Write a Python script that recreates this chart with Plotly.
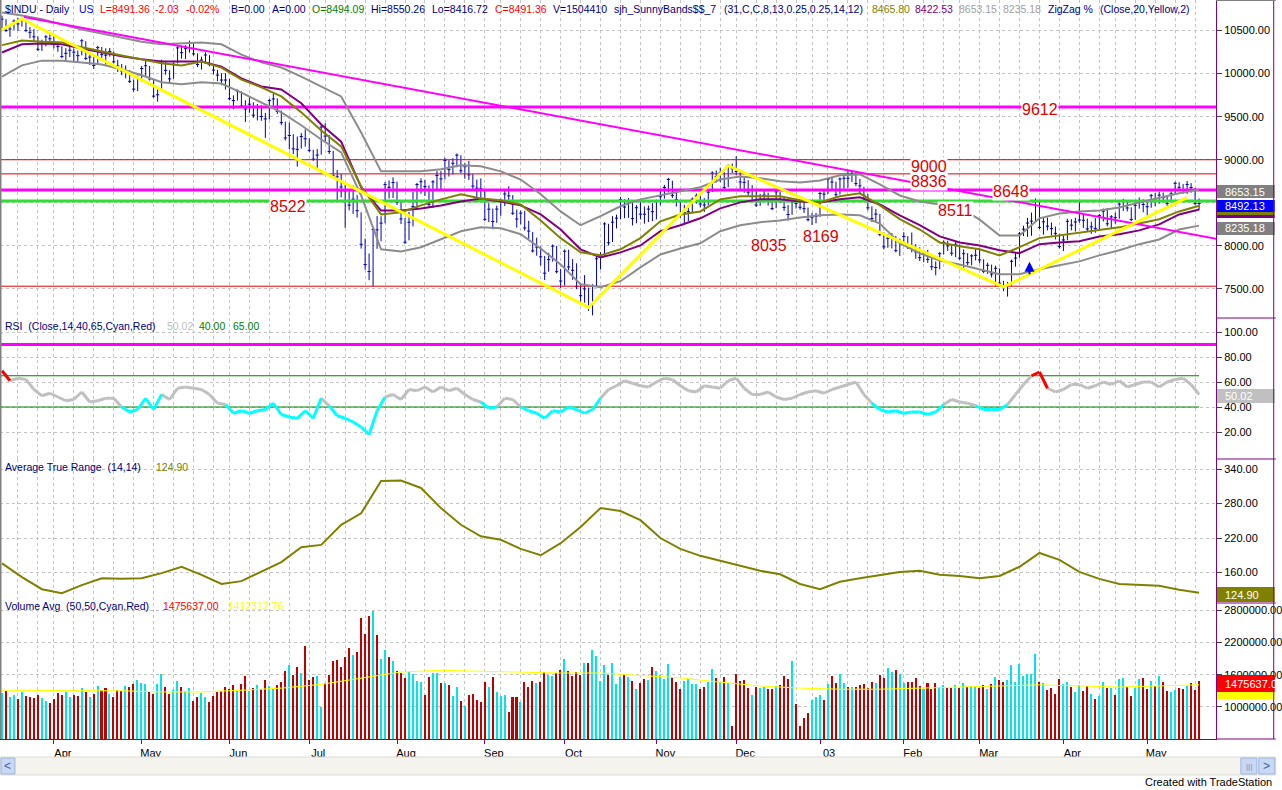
import pandas as pd
import plotly.graph_objects as go
from plotly.subplots import make_subplots

# ---- trading days: 12 Mar 2002 .. 20 May 2003 ----
holidays = ["2002-03-29", "2002-05-27", "2002-07-04", "2002-09-02", "2002-11-28",
            "2002-12-25", "2003-01-01", "2003-01-20", "2003-02-17", "2003-04-18"]
dates = pd.bdate_range("2002-03-12", "2003-05-20")
dates = dates[~dates.isin(pd.to_datetime(holidays))]

# ---- daily closes (one row per month) ----
close = [
    10632, 10501, 10517, 10608, 10577, 10635, 10501, 10479, 10427, 10282, 10353, 10426, 10404,
    10362, 10313, 10198, 10235, 10271, 10249, 10208, 10381, 10176, 10191, 10094, 10301, 10220, 10213, 10257, 10137, 10089, 10031, 10035, 9910, 9819, 9946,
    10059, 10091, 9939, 9738, 9754, 10141, 10037, 9939, 10109, 10298, 10243, 10289, 10353, 10229, 10105, 10157, 10216, 10104, 10040, 9982, 9925, 9925,
    9709, 9687, 9796, 9624, 9589, 9645, 9517, 9617, 9502, 9474, 9687, 9706, 9562, 9431, 9253, 9281, 9126, 9120, 9269, 9243,
    9109, 9007, 9054, 9379, 9274, 9096, 8813, 8801, 8684, 8639, 8473, 8542, 8409, 8019, 7784, 7702, 8191, 8186, 8264, 8712, 8680, 8736,
    8506, 8313, 8043, 8274, 8456, 8712, 8745, 8688, 8482, 8743, 8818, 8778, 8991, 8885, 8958, 9053, 8872, 8919, 8825, 8694, 8670, 8663,
    8308, 8426, 8283, 8427, 8519, 8602, 8581, 8379, 8312, 8380, 8208, 8172, 7942, 7986, 7873, 7683, 7841, 7997, 7701, 7592,
    7938, 7756, 7717, 7528, 7422, 7501, 7286, 7534, 7850, 7877, 8255, 8036, 8275, 8322, 8538, 8451, 8495, 8317, 8443, 8368, 8368, 8427, 8397,
    8518, 8571, 8678, 8771, 8586, 8537, 8358, 8386, 8398, 8542, 8579, 8486, 8474, 8623, 8845, 8805, 8849, 8676, 8931, 8896,
    8862, 8742, 8737, 8623, 8645, 8473, 8574, 8589, 8538, 8433, 8627, 8535, 8447, 8364, 8511, 8493, 8448, 8432, 8304, 8333, 8342,
    8608, 8601, 8773, 8741, 8595, 8776, 8785, 8785, 8842, 8723, 8697, 8586, 8442, 8318, 8369, 8131, 7989, 8088, 8110, 7945, 8054,
    8109, 8013, 7985, 7930, 7864, 7920, 7843, 7758, 7749, 7909, 8042, 8000, 7915, 8018, 7858, 7909, 7806, 7884, 7891,
    7837, 7704, 7775, 7673, 7740, 7568, 7524, 7552, 7821, 7859, 8141, 8194, 8265, 8287, 8522, 8215, 8280, 8229, 8201, 8145, 7992,
    8069, 8285, 8240, 8277, 8300, 8298, 8197, 8221, 8203, 8351, 8403, 8257, 8337, 8328, 8485, 8516, 8440, 8307, 8471, 8502, 8480,
    8454, 8583, 8531, 8589, 8560, 8491, 8604, 8726, 8679, 8647, 8713, 8678, 8493, 8491.36,
]
# points from close up to the high, and down to the low
hi_ext = [
    40, 130, 60, 20, 70, 15, 130, 60, 90, 150, 40, 20, 60,
    80, 60, 120, 60, 50, 40, 60, 20, 200, 60, 100, 20, 90, 80, 40, 120, 70, 80, 60, 130, 110, 30,
    30, 60, 150, 200, 90, 20, 110, 100, 20, 20, 80, 40, 30, 120, 130, 40, 30, 110, 70, 60, 80, 80,
    230, 60, 20, 170, 100, 80, 150, 30, 130, 70, 20, 60, 150, 140, 190, 150, 170, 150, 40, 110,
    140, 110, 70, 20, 150, 190, 290, 80, 150, 70, 170, 160, 180, 370, 300, 210, 30, 160, 80, 30, 80, 60,
    240, 200, 280, 120, 170, 20, 40, 80, 220, 20, 50, 90, 30, 110, 60, 20, 180, 40, 160, 140, 100, 120,
    350, 70, 150, 40, 30, 40, 110, 210, 110, 30, 200, 120, 220, 110, 120, 200, 80, 20, 300, 140,
    20, 200, 130, 270, 130, 160, 230, 20, 40, 50, 20, 220, 70, 40, 30, 90, 60, 200, 30, 170, 90, 40, 100,
    20, 90, 30, 20, 170, 120, 170, 90, 80, 20, 30, 110, 80, 20, 20, 70, 60, 180, 20, 60,
    180, 120, 70, 140, 60, 180, 30, 60, 80, 120, 20, 90, 110, 110, 30, 50, 60, 80, 140, 50, 40,
    20, 40, 20, 60, 150, 20, 40, 90, 20, 140, 80, 100, 160, 140, 60, 240, 170, 50, 40, 170, 30,
    50, 100, 170, 90, 120, 30, 110, 100, 70, 20, 20, 60, 100, 40, 160, 50, 110, 20, 80,
    130, 140, 30, 110, 30, 170, 70, 30, 20, 60, 20, 40, 60, 100, 30, 300, 50, 100, 70, 80, 150,
    50, 30, 70, 50, 220, 60, 120, 60, 120, 20, 30, 180, 20, 60, 20, 30, 90, 140, 20, 60, 60,
    60, 20, 80, 40, 60, 80, 30, 20, 60, 70, 40, 50, 180, 58.9,
]
lo_ext = [
    110, 20, 90, 100, 80, 90, 20, 70, 50, 20, 90, 110, 60,
    70, 60, 20, 90, 80, 110, 70, 170, 20, 90, 40, 190, 40, 110, 60, 20, 70, 50, 90, 20, 30, 150,
    150, 120, 20, 20, 80, 330, 50, 60, 170, 180, 70, 120, 110, 20, 30, 110, 100, 20, 50, 70, 60, 110,
    20, 100, 110, 20, 150, 100, 30, 160, 50, 220, 220, 80, 30, 30, 30, 160, 60, 200, 140, 90,
    20, 20, 160, 320, 80, 30, 30, 280, 120, 430, 60, 170, 80, 50, 60, 100, 660, 220, 210, 450, 130, 180,
    30, 60, 20, 210, 230, 280, 140, 110, 30, 300, 160, 120, 220, 80, 130, 140, 30, 140, 60, 50, 110, 100,
    20, 150, 90, 160, 170, 140, 90, 20, 100, 130, 30, 90, 20, 100, 100, 80, 140, 180, 20, 80,
    400, 40, 110, 30, 80, 160, 40, 340, 320, 150, 380, 30, 230, 120, 230, 130, 170, 80, 180, 60, 110, 150, 110,
    210, 100, 130, 150, 30, 80, 30, 120, 110, 160, 90, 40, 80, 150, 220, 70, 110, 20, 250, 50,
    40, 80, 120, 50, 130, 20, 110, 80, 70, 20, 190, 40, 40, 70, 150, 60, 30, 50, 20, 90, 80,
    270, 90, 170, 80, 30, 180, 120, 110, 100, 30, 100, 50, 30, 40, 100, 20, 30, 110, 140, 20, 170,
    110, 50, 60, 80, 40, 110, 40, 40, 90, 180, 140, 60, 30, 150, 20, 170, 30, 110, 60,
    40, 20, 100, 40, 200, 20, 50, 140, 280, 100, 280, 80, 160, 170, 240, 20, 150, 50, 80, 70, 20,
    130, 220, 60, 110, 30, 90, 30, 80, 50, 170, 120, 30, 130, 70, 170, 110, 40, 20, 170, 70, 90,
    100, 140, 70, 100, 60, 30, 80, 130, 30, 40, 110, 60, 20, 74.6,
]
# daily volume, thousands
vol_k = [
    1260, 1300, 1180, 1220, 1150, 1270, 1210, 1190, 1160, 1230, 1170, 1120, 1080,
    1150, 1260, 1220, 1270, 1180, 1230, 1210, 1350, 1270, 1180, 1240, 1390, 1320, 1360, 1250, 1180, 1310, 1290, 1390, 1370, 1420, 1500,
    1450, 1420, 1280, 1250, 1420, 1610, 1370, 1240, 1320, 1490, 1380, 1290, 1350, 1120, 1190, 1260, 1180, 1090, 1200, 1270, 1290, 1370,
    1330, 1400, 1310, 1420, 1580, 1300, 1360, 1410, 1330, 1500, 1390, 1330, 1400, 1470, 1670, 1780, 1590, 1750, 1640, 2130,
    1500, 1560, 1580, 1000, 1450, 1600, 1860, 1880, 1740, 1930, 2090, 1960, 2020, 2650, 2350, 2680, 2780, 2330, 1890, 2060, 1920, 1860,
    1660, 1640, 1540, 1650, 1620, 1490, 1460, 1230, 1560, 1640, 1630, 1450, 1450, 1400, 1200, 1370, 1110, 1020, 1220, 1240, 1130, 1100,
    1470, 1370, 1550, 1270, 1210, 1230, 910, 1180, 1180, 1100, 1460, 1380, 1480, 1440, 1470, 1650, 1590, 1580, 1640, 1690,
    1890, 1660, 1580, 1650, 1600, 1810, 1820, 2060, 1950, 1480, 1780, 1590, 1810, 1420, 1550, 1600, 1550, 1480, 1340, 1450, 1520, 1510, 1750,
    1670, 1590, 1520, 1790, 1550, 1460, 1340, 1490, 1520, 1430, 1420, 1330, 1380, 1460, 1710, 1530, 1470, 1550, 1440, 640,
    1620, 1490, 1500, 1350, 1230, 1370, 1360, 1380, 1330, 1340, 1390, 1410, 1580, 1520, 1850, 1060, 650, 800, 890, 1130, 1190,
    1230, 1130, 1430, 1570, 1450, 1610, 1450, 1380, 1380, 1370, 1400, 1420, 1360, 1460, 1450, 1590, 1530, 1720, 1650, 1690, 1610,
    1450, 1460, 1460, 1530, 1390, 1330, 1450, 1330, 1440, 1380, 1410, 1360, 1350, 1400, 1360, 1440, 1370, 1390, 1380,
    1360, 1410, 1340, 1420, 1560, 1500, 1470, 1500, 1780, 1460, 1800, 1570, 1620, 1620, 1990, 1460, 1440, 1320, 1350, 1240, 1520,
    1420, 1470, 1380, 1280, 1400, 1300, 1390, 1250, 1150, 1200, 1460, 1360, 1360, 1220, 1520, 1530, 1380, 1210, 1350, 1520, 1540,
    1330, 1480, 1390, 1570, 1460, 1300, 1280, 1310, 1350, 1330, 1390, 1440, 1310, 1475.637,
]

# ---- SunnyBands, read every 5th bar ----
band_step = 5
sb_fast = [10330, 10385, 10370, 10360, 10305, 10255, 10210, 10165, 10120, 10095,
           10140, 10070, 9930, 9840, 9735, 9550, 9340, 9155, 8690, 8365,
           8390, 8470, 8540, 8600, 8550, 8530, 8480, 8295, 8090, 7925,
           7890, 7960, 8090, 8285, 8365, 8400, 8540, 8575, 8575, 8575,
           8530, 8505, 8575, 8610, 8470, 8310, 8190, 8040, 7995, 7960,
           7890, 7985, 8090, 8120, 8155, 8180, 8215, 8260, 8310, 8400, 8465.80]
sb_slow = [10245, 10340, 10350, 10340, 10290, 10245, 10200, 10165, 10140, 10140,
           10140, 10080, 9945, 9850, 9815, 9655, 9410, 9210, 8680, 8410,
           8410, 8435, 8470, 8515, 8550, 8515, 8470, 8365, 8190, 7960,
           7865, 7925, 8005, 8170, 8240, 8320, 8435, 8505, 8540, 8540,
           8515, 8505, 8540, 8565, 8480, 8355, 8240, 8110, 8040, 8005,
           7950, 7915, 8020, 8040, 8055, 8110, 8135, 8180, 8250, 8365, 8422.53]
sb_upper = [10710, 10675, 10630, 10570, 10510, 10465, 10420, 10370, 10340, 10350,
            10360, 10340, 10220, 10130, 10070, 9965, 9850, 9735, 9315, 8865,
            8865, 8865, 8890, 8935, 8925, 8865, 8770, 8600, 8400, 8240,
            8345, 8460, 8540, 8585, 8630, 8680, 8770, 8805, 8785, 8750,
            8735, 8760, 8820, 8830, 8715, 8585, 8515, 8480, 8445, 8305,
            8120, 8120, 8320, 8375, 8400, 8410, 8445, 8505, 8560, 8610, 8653.15]
sb_lower = [9965, 10095, 10150, 10150, 10130, 10105, 10050, 9980, 9900, 9875,
            9900, 9885, 9780, 9665, 9550, 9400, 9235, 9085, 8585, 7960,
            7935, 7985, 8075, 8170, 8215, 8205, 8135, 7970, 7785, 7555,
            7520, 7590, 7750, 7900, 7970, 8030, 8170, 8240, 8275, 8295,
            8330, 8355, 8365, 8355, 8260, 8030, 7915, 7830, 7785, 7730,
            7670, 7670, 7730, 7775, 7820, 7890, 7950, 8020, 8075, 8190, 8235.18]
atr = [176, 152, 131, 124, 138, 150, 149, 150, 159, 170,
       156, 140, 145, 161, 178, 204, 208, 243, 263, 319,
       320, 307, 272, 243, 223, 217, 201, 190, 211, 239,
       272, 267, 251, 220, 201, 189, 180, 171, 163, 157,
       140, 131, 144, 150, 156, 161, 163, 156, 154, 150,
       154, 170, 194, 182, 161, 149, 140, 139, 137, 130, 124.90]

# ---- RSI, read every 2nd bar ----
rsi_step = 2
rsi = [69, 61, 63, 62, 54, 49, 51, 48, 45, 46,
       52, 44, 45, 47, 47, 40, 36, 38, 47, 38,
       50, 46, 55, 56, 55, 54, 50, 43, 42, 35,
       37, 35, 37, 38, 43, 34, 32, 31, 37, 31,
       47, 41, 33, 31, 28, 24, 18, 37, 48, 50,
       46, 54, 53, 56, 52, 56, 53, 55, 50, 46,
       44, 39, 40, 47, 46, 40, 37, 35, 31, 37,
       36, 40, 38, 35, 38, 47, 54, 57, 61, 59,
       57, 56, 60, 63, 62, 57, 53, 52, 57, 56,
       55, 61, 63, 55, 50, 50, 52, 48, 46, 47,
       50, 52, 53, 51, 54, 56, 58, 60, 50, 43,
       38, 36, 37, 35, 36, 36, 34, 36, 42, 46,
       44, 43, 41, 38, 38, 38, 42, 50, 58, 65,
       68, 55, 52, 54, 58, 58, 55, 57, 60, 58,
       61, 56, 58, 60, 60, 56, 60, 62, 63, 58, 50.02]

# ---- 50-bar volume average, read every 10th bar (thousands) ----
vavg_step = 10
vol_avg_k = [1310, 1310, 1300, 1300, 1280, 1280, 1310, 1350, 1420, 1540,
             1650, 1680, 1660, 1650, 1630, 1630, 1590, 1540, 1460, 1390,
             1350, 1330, 1330, 1350, 1370, 1390, 1410, 1390, 1370, 1390, 1412.31276]

# ---- drawn objects ----
zz_bar = [0, 5, 147, 182, 251, 297]
zz_val = [10510, 10635, 7286, 8931, 7524, 8560]
trend_bar = [5.5, 304.5]
trend_val = [10657, 8080]
level_vals = [9612, 9000, 8836, 8648, 8522, 7532]
level_tags = [("9612", 260.1, 9583), ("9000", 232.2, 8927), ("8836", 232.2, 8748),
              ("8648", 252.9, 8626), ("8511", 238.9, 8405), ("8169", 205.2, 8104),
              ("8035", 192.3, 7999), ("8522", 71.6, 8463)]

n = len(dates)
assert len(close) == len(hi_ext) == len(lo_ext) == len(vol_k) == n
idx = list(range(n))
high = [c + h for c, h in zip(close, hi_ext)]
low = [c - l for c, l in zip(close, lo_ext)]
volume = [v * 1000 for v in vol_k]
band_x = list(range(0, n, band_step))
rsi_x = list(range(0, n, rsi_step))
vavg_x = list(range(0, n, vavg_step))

# pixel helpers (plot area is 1222 x 739 px)
PW, PH = 1222.0, 739.0
def px(x):
    return x / PW
def py(y):
    return 1 - y / PH

NAVY = "#000080"
PURPLE_AX = "#800080"
FONT = "Liberation Sans, Arial, sans-serif"

fig = make_subplots(rows=4, cols=1, shared_xaxes=True, vertical_spacing=0)

# horizontal levels and bands
LINE_X = [-0.6, 304.6]
level_style = {9612: ("#ff00ff", 3), 9000: ("#dd0000", 1), 8836: ("#dd0000", 1),
               8648: ("#ff00ff", 3), 8522: ("#33dd33", 3), 7532: ("#dd0000", 1)}
for lv in level_vals:
    col, w = level_style[lv]
    fig.add_trace(go.Scatter(x=LINE_X, y=[lv, lv], mode="lines",
                             line=dict(color=col, width=w), hoverinfo="skip"), row=1, col=1)
for ys, col in [(sb_upper, "#8c8c8c"), (sb_lower, "#8c8c8c"), (sb_slow, "#800080"), (sb_fast, "#808000")]:
    fig.add_trace(go.Scatter(x=band_x, y=ys, mode="lines", line=dict(color=col, width=2),
                             hoverinfo="skip"), row=1, col=1)

fig.add_trace(go.Ohlc(x=idx, open=close, high=high, low=low, close=close,
                      increasing_line_color="#0000b4", decreasing_line_color="#0000b4",
                      line_width=1, tickwidth=0.4, hoverinfo="skip"), row=1, col=1)

fig.add_trace(go.Scatter(x=trend_bar, y=trend_val, mode="lines",
                         line=dict(color="#ff00ff", width=2), hoverinfo="skip"), row=1, col=1)
fig.add_trace(go.Scatter(x=zz_bar, y=zz_val, mode="lines",
                         line=dict(color="#ffff00", width=3), hoverinfo="skip"), row=1, col=1)

# RSI, coloured by zone
segs = {"#c0c0c0": ([], []), "#00ffff": ([], []), "#ff0000": ([], [])}
for a in range(len(rsi) - 1):
    v0, v1 = rsi[a], rsi[a + 1]
    key = "#ff0000" if max(v0, v1) > 65 else ("#00ffff" if min(v0, v1) < 40 else "#c0c0c0")
    segs[key][0].extend([rsi_x[a], rsi_x[a + 1], None])
    segs[key][1].extend([v0, v1, None])
for lv, col in [(90, "#ff00ff"), (65, "#008000"), (40, "#008000")]:
    fig.add_trace(go.Scatter(x=[-0.6, 300] if lv != 90 else LINE_X, y=[lv, lv], mode="lines",
                             line=dict(color=col, width=3 if lv == 90 else 1), hoverinfo="skip"), row=2, col=1)
for col, (xs, ys) in segs.items():
    fig.add_trace(go.Scatter(x=xs, y=ys, mode="lines", line=dict(color=col, width=3),
                             hoverinfo="skip"), row=2, col=1)

# ATR
fig.add_trace(go.Scatter(x=band_x, y=atr, mode="lines", line=dict(color="#808000", width=2),
                         hoverinfo="skip"), row=3, col=1)

# Volume
vcols = ["#00e5e5"] + ["#00e5e5" if close[i] > close[i - 1] else "#c00000" for i in range(1, n)]
fig.add_trace(go.Bar(x=idx, y=volume, marker_color=vcols, marker_line_width=0, width=0.38,
                     hoverinfo="skip"), row=4, col=1)
fig.add_trace(go.Scatter(x=vavg_x, y=[v * 1000 for v in vol_avg_k], mode="lines",
                         line=dict(color="#ffff00", width=1), hoverinfo="skip"), row=4, col=1)

# ---- axes ----
week_starts = [i for i in range(1, n) if dates[i].weekday() < dates[i - 1].weekday()]
month_starts = [i for i in range(1, n) if dates[i].month != dates[i - 1].month]
month_text = ["03" if dates[i].month == 1 else dates[i].strftime("%b") for i in month_starts]

xr = [-0.5, 304.24]
for k in range(1, 5):
    fig.update_xaxes(range=xr, showgrid=False, zeroline=False, rangeslider_visible=False,
                     minor=dict(tickmode="array", tickvals=week_starts, showgrid=True,
                                gridcolor="#c4c4c4", griddash="dot", gridwidth=1),
                     row=k, col=1)
fig.update_xaxes(tickmode="array", tickvals=month_starts, ticktext=month_text,
                 ticks="outside", ticklen=4, tickcolor=PURPLE_AX, ticklabelshift=9,
                 tickfont=dict(family=FONT, size=11, color="#000000"),
                 showline=True, linecolor=PURPLE_AX, linewidth=1, row=4, col=1)

yax = dict(side="right", showline=True, linecolor=PURPLE_AX, linewidth=1, ticks="outside",
           ticklen=5, tickcolor="#404040", showgrid=True, gridcolor="#c4c4c4", griddash="dot",
           zeroline=False, tickfont=dict(family=FONT, size=11, color="#000000"), tickformat=".2f")
fig.update_yaxes(**yax)
price_ticks = [7500, 8000, 8500, 9000, 9500, 10000, 10500]
fig.update_yaxes(range=[7163, 10854], tickvals=price_ticks,
                 ticktext=["" if v == 8500 else f"{v:.2f}" for v in price_ticks], row=1, col=1)
fig.update_yaxes(range=[-1.6, 111.2], tickvals=[20, 40, 60, 80, 100], row=2, col=1)
fig.update_yaxes(range=[107, 357.4], tickvals=[160, 220, 280, 340], row=3, col=1)
fig.update_yaxes(range=[406000, 2930000], tickvals=[1000000, 1600000, 2200000, 2800000], row=4, col=1)

fig.update_layout(
    yaxis=dict(domain=[py(318), 1]),
    yaxis2=dict(domain=[py(459), py(318)]),
    yaxis3=dict(domain=[py(603), py(459)]),
    yaxis4=dict(domain=[0, py(603)]),
)

# ---- annotations ----
ann = []
def txt(x, y, s, color, size=11, anchor="left", **kw):
    ann.append(dict(x=px(x), y=py(y), xref="paper", yref="paper", text=s, showarrow=False,
                    xanchor=anchor, yanchor="middle", font=dict(family=FONT, size=size, color=color), **kw))

header = [("$INDU - Daily", 3, NAVY), ("US", 77, "#0000ff"), ("L=8491.36", 98, "#ff0000"),
          ("-2.03", 154, "#ff0000"), ("-0.02%", 185, "#ff0000"), ("B=0.00", 230, NAVY),
          ("A=0.00", 271, NAVY), ("O=8494.09", 312, "#008000"), ("Hi=8550.26", 371, NAVY),
          ("Lo=8416.72", 432, NAVY), ("C=8491.36", 495, "#ff0000"), ("V=1504410", 554, NAVY),
          ("sjh_SunnyBands$$_7", 615, NAVY), ("(31,C,C,8,13,0.25,0.25,14,12)", 726, NAVY),
          ("8465.80", 874, "#808000"), ("8422.53", 918, "#800080"), ("8653.15", 962, "#a0a0a0"),
          ("8235.18", 1006, "#a0a0a0"), ("ZigZag %", 1051, NAVY), ("(Close,20,Yellow,2)", 1103, NAVY)]
for s, x, c in header:
    txt(x, 9, s, c, size=10.5)

for s, x, c in [("RSI  (Close,14,40,65,Cyan,Red)", 3, NAVY), ("50.02", 166, "#c0c0c0"),
                ("40.00", 198, "#008000"), ("65.00", 232, "#008000")]:
    txt(x, 326, s, c, size=10.5)
for s, x, c in [("Average True Range  (14,14)", 3, NAVY), ("124.90", 155, "#808000")]:
    txt(x, 467, s, c, size=10.5)
for s, x, c in [("Volume Avg  (50,50,Cyan,Red)", 3, NAVY), ("1475637.00", 162, "#ff0000"),
                ("1412312.76", 227, "#ffff00")]:
    txt(x, 606, s, c, size=10.5)

for s, bx, by in level_tags:
    ann.append(dict(x=bx, y=by, xref="x", yref="y", text=s, showarrow=False,
                    font=dict(family=FONT, size=16, color="#dd0000"),
                    bgcolor="#ffffff", borderpad=0))

ann.append(dict(x=257.5, y=7815, xref="x", yref="y", ax=0, ay=14, text="", showarrow=True,
                arrowhead=2, arrowsize=1, arrowwidth=2, arrowcolor="#0000ff"))

shapes = []
def rect(x0, y0, x1, y1, fill, line=None):
    shapes.append(dict(type="rect", xref="paper", yref="paper", x0=px(x0), x1=px(x1),
                       y0=py(y1), y1=py(y0), fillcolor=fill,
                       line=dict(color=line or fill, width=1 if line else 0), layer="above"))
def hline(x0, x1, y, color, w=1):
    shapes.append(dict(type="line", xref="paper", yref="paper", x0=px(x0), x1=px(x1),
                       y0=py(y), y1=py(y), line=dict(color=color, width=w), layer="above"))
def vline(x, y0, y1, color, w=1):
    shapes.append(dict(type="line", xref="paper", yref="paper", x0=px(x), x1=px(x),
                       y0=py(y0), y1=py(y1), line=dict(color=color, width=w), layer="above"))

# right-hand value boxes
rect(1223, 185, 1281, 198, "#808080")
rect(1223, 200, 1281, 212, "#0000ff")
rect(1223, 212, 1281, 215, "#808000")
rect(1223, 215, 1281, 218, "#800080")
rect(1223, 222, 1281, 235, "#808080")
rect(1223, 389, 1281, 403, "#c0c0c0")
rect(1223, 587, 1281, 602, "#808000")
rect(1223, 675, 1281, 692, "#ff0000")
rect(1223, 692, 1281, 699, "#ffff00")
for s, y in [("8653.15", 191.5), ("8492.13", 206), ("8235.18", 228.5), ("50.02", 396),
             ("124.90", 594.5), ("1475637.00", 683.5)]:
    txt(1229, y, s, "#ffffff")

# frame lines
vline(0.5, 0, 739, "#808080", 2)
vline(1280, 0, 739, PURPLE_AX)
hline(1222, 1282, 0.5, "#808080")
for y in (318, 459, 603, 739):
    hline(1222, 1282, y, PURPLE_AX)

# scrollbar strip + footer
rect(0, 757, 1282, 775, "#f4f3ee", "#dcdcd4")
rect(1, 758, 15, 774, "#c9d8f3", "#9db4e0")
rect(1247, 758, 1263, 774, "#c9d8f3", "#9db4e0")
rect(1265, 758, 1281, 774, "#c9d8f3", "#9db4e0")
txt(8, 766, "&lt;", "#4060a0", size=12, anchor="center")
txt(1255, 766, "|||", "#7090c8", size=8, anchor="center")
txt(1273, 766, "&gt;", "#4060a0", size=12, anchor="center")
txt(1280, 782, "Created with TradeStation", "#000000", size=11, anchor="right")

fig.update_layout(
    width=1282, height=790, autosize=False,
    margin=dict(l=0, r=60, t=0, b=51),
    paper_bgcolor="#ffffff", plot_bgcolor="#ffffff",
    showlegend=False, hovermode=False, bargap=0,
    font=dict(family=FONT, size=11),
    annotations=ann, shapes=shapes,
)

fig.write_html("out.html", config={"displayModeBar": False},
               post_script="document.body.style.margin='0';")
